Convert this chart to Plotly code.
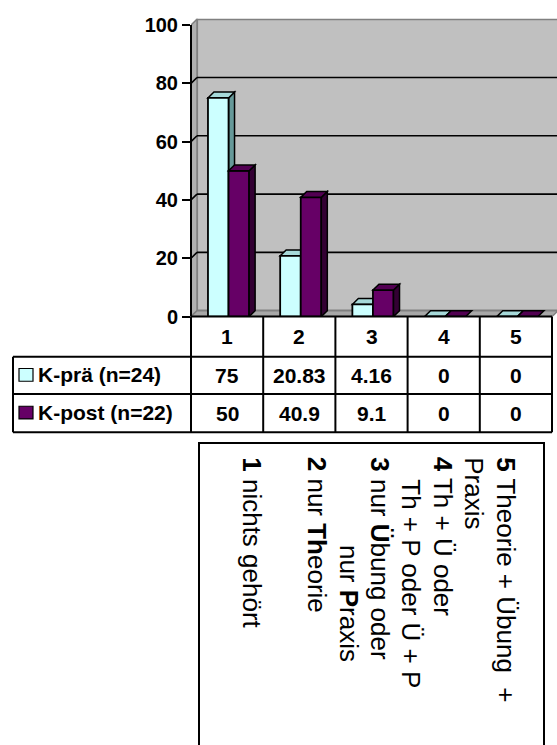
import plotly.graph_objects as go

# ---- data -------------------------------------------------------------
categories = ["1", "2", "3", "4", "5"]
series_names = ["K-prä (n=24)", "K-post (n=22)"]
k_prae = [75, 20.83, 4.16, 0, 0]
k_post = [50, 40.9, 9.1, 0, 0]
y_ticks = [0, 20, 40, 60, 80, 100]

legend_lines = [
    "<b>5</b> Theorie + Übung \u00a0+",
    "Praxis",
    "<b>4</b> Th + Ü oder",
    "Th + P oder Ü + P",
    "<b>3</b> nur <b>Ü</b>bung oder",
    "nur <b>P</b>raxis",
    "<b>2</b> nur <b>Th</b>eorie",
    "<b>1</b> nichts gehört",
]

# ---- layout geometry (pixels) -----------------------------------------
W, H = 557, 745
AX_LEFT = 191          # y axis / first category boundary
FLOOR_Y = 319          # value 0
TOP_Y = 15             # top of plotting area
PX_CAT = 72.2          # pixels per category
PX_UNIT = 2.975        # pixels per y unit
DEPTH_PX = 6           # 3-D depth offset

FONT = "Liberation Sans, Arial, sans-serif"
CYAN, CYAN_TOP, CYAN_SIDE = "#CCFFFF", "#A6D9D9", "#669999"
PURP, PURP_TOP, PURP_SIDE = "#660066", "#520052", "#330033"

def px(x):
    return x / W

def py(y):
    return 1 - y / H

x_max = (W - AX_LEFT) / PX_CAT
y_max = (FLOOR_Y - TOP_Y) / PX_UNIT
DX = DEPTH_PX / PX_CAT
DY = DEPTH_PX / PX_UNIT
n = len(categories)

BAR_W = 0.285
OFF_PRAE = -0.265
OFF_POST = 0.02
xpos = [i + 0.5 for i in range(n)]

fig = go.Figure()
fig.add_trace(go.Bar(x=xpos, y=k_prae, name=series_names[0], width=BAR_W,
                     offset=OFF_PRAE, marker=dict(color=CYAN, line=dict(color="black", width=1.8))))
fig.add_trace(go.Bar(x=xpos, y=k_post, name=series_names[1], width=BAR_W,
                     offset=OFF_POST, marker=dict(color=PURP, line=dict(color="black", width=1.8))))

shapes = []

def poly(pts, fill, line="black", lw=1.5, layer="below", xref="x", yref="y"):
    path = "M " + " L ".join(f"{a},{b}" for a, b in pts) + " Z"
    shapes.append(dict(type="path", path=path, xref=xref, yref=yref, fillcolor=fill,
                       line=dict(color=line, width=lw), layer=layer))

def seg(x0, y0, x1, y1, color="black", width=2, xref="paper", yref="paper", layer="above"):
    shapes.append(dict(type="line", x0=x0, y0=y0, x1=x1, y1=y1, xref=xref, yref=yref,
                       line=dict(color=color, width=width), layer=layer))

# walls and floor
top = y_ticks[-1]
poly([(DX, DY), (x_max + 1, DY), (x_max + 1, top + DY), (DX, top + DY)], "#C0C0C0", "#808080", 2.2)
poly([(0, 0), (DX, DY), (DX, top + DY), (0, top)], "#B0B0B0", "#808080", 1.5)
poly([(0, 0), (n, 0), (n + DX, DY), (DX, DY)], "#A8A8A8", "#808080", 1.5)

# gridlines on the back and side walls
for t in y_ticks[1:-1]:
    shapes.append(dict(type="line", x0=0, y0=t, x1=DX, y1=t + DY, xref="x", yref="y",
                       line=dict(color="black", width=1.6), layer="below"))
    shapes.append(dict(type="line", x0=DX, y0=t + DY, x1=x_max + 1, y1=t + DY, xref="x", yref="y",
                       line=dict(color="black", width=1.6), layer="below"))

# 3-D side and top faces of the bars
def faces(values, offset, top_col, side_col, layer):
    for i, v in enumerate(values):
        x0 = xpos[i] + offset
        x1 = x0 + BAR_W
        if v > 0:
            poly([(x1, 0), (x1, v), (x1 + DX, v + DY), (x1 + DX, DY)], side_col, layer=layer)
        poly([(x0, v), (x1, v), (x1 + DX, v + DY), (x0 + DX, v + DY)], top_col, layer=layer)

faces(k_prae, OFF_PRAE, CYAN_TOP, CYAN_SIDE, "below")
faces(k_post, OFF_POST, PURP_TOP, PURP_SIDE, "above")

# y axis line
seg(px(AX_LEFT), py(FLOOR_Y), px(AX_LEFT), py(FLOOR_Y - top * PX_UNIT))

# ---- data table ---------------------------------------------------------
TBL_LEFT = 13
ROW_Y = [FLOOR_Y, 360, 398, 437]
right = AX_LEFT + n * PX_CAT
seg(px(AX_LEFT), py(ROW_Y[0]), px(right), py(ROW_Y[0]))
for yy in ROW_Y[1:]:
    seg(px(TBL_LEFT), py(yy), px(right), py(yy))
seg(px(TBL_LEFT), py(ROW_Y[1]), px(TBL_LEFT), py(ROW_Y[3]))
for i in range(n + 1):
    xx = AX_LEFT + i * PX_CAT
    seg(px(xx), py(ROW_Y[0]), px(xx), py(ROW_Y[3]))

annotations = []
tf = dict(family=FONT, size=21, color="black", weight="bold")

def cell_text(text, xc, yc, xref="x"):
    annotations.append(dict(text=text, x=xc, y=py(yc), xref=xref, yref="paper",
                            showarrow=False, xanchor="center", yanchor="middle", font=tf))

row_centers = [(ROW_Y[0] + ROW_Y[1]) / 2, (ROW_Y[1] + ROW_Y[2]) / 2, (ROW_Y[2] + ROW_Y[3]) / 2]
for i, c in enumerate(categories):
    cell_text(c, xpos[i], row_centers[0])
for row, (vals, col, name) in enumerate(zip([k_prae, k_post], [CYAN, PURP], series_names)):
    yc = row_centers[row + 1]
    for i, v in enumerate(vals):
        cell_text(f"{v:g}", xpos[i], yc)
    shapes.append(dict(type="rect", xref="paper", yref="paper",
                       x0=px(19), x1=px(33), y0=py(yc - 7), y1=py(yc + 6),
                       fillcolor=col, line=dict(color="black", width=1.2), layer="above"))
    annotations.append(dict(text=name, x=px(36), y=py(yc - 1), xref="paper", yref="paper",
                            showarrow=False, xanchor="left", yanchor="middle", font=tf))

# ---- category explanation box ---------------------------------------------
BOX = (199, 448, 544, 760)
shapes.append(dict(type="rect", xref="paper", yref="paper", x0=px(BOX[0]), x1=px(BOX[2]),
                   y0=py(BOX[1]), y1=py(BOX[3]), line=dict(color="black", width=2),
                   fillcolor="rgba(0,0,0,0)", layer="above"))
line_x = [506, 474.5, 443, 411.5, 380, 348.5, 317, 252]
line_top = [460, 460, 460, 483, 460, 550, 460, 460]
for text, xc, yt in zip(legend_lines, line_x, line_top):
    annotations.append(dict(text=text, x=px(xc), y=py(yt), xref="paper", yref="paper",
                            showarrow=False, textangle=90, xanchor="center", yanchor="top",
                            font=dict(family=FONT, size=26, color="black")))

fig.update_layout(
    width=W, height=H, margin=dict(l=0, r=0, t=0, b=0),
    paper_bgcolor="white", plot_bgcolor="white",
    barmode="overlay", showlegend=False,
    shapes=shapes, annotations=annotations,
    xaxis=dict(domain=[px(AX_LEFT), 1], range=[0, x_max], showgrid=False, zeroline=False,
               showticklabels=False, ticks="", showline=False, fixedrange=True),
    yaxis=dict(domain=[py(FLOOR_Y), py(TOP_Y)], range=[0, y_max], showgrid=False, zeroline=False,
               showline=False, tickvals=y_ticks, ticks="outside", ticklen=8, tickwidth=2,
               tickcolor="black", tickfont=dict(family=FONT, size=20, color="black", weight="bold"),
               fixedrange=True),
)

fig.write_html("out.html")
